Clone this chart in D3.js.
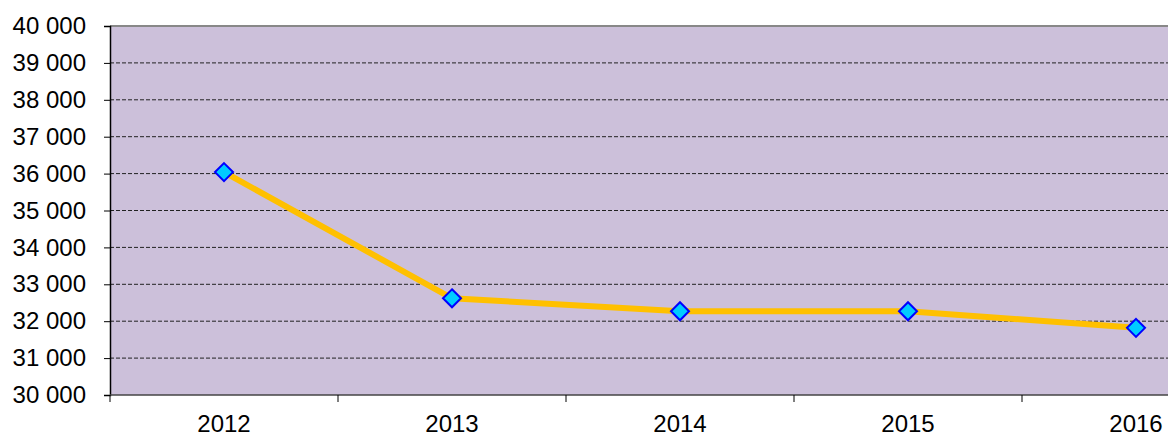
<!DOCTYPE html>
<html><head><meta charset="utf-8">
<script src="https://cdn.jsdelivr.net/npm/d3@7"></script>
<style>body{margin:0;background:#fff}svg{display:block}</style>
</head><body>
<svg id="c" width="1168" height="437"></svg>
<script>
const years = ["2012","2013","2014","2015","2016"];
const values = [36040, 32620, 32270, 32270, 31820];
const yTicks = [30000,31000,32000,33000,34000,35000,36000,37000,38000,39000,40000];

const svg = d3.select("#c");
const L = 110, T = 26, B = 395, R = 1168;
const x = d3.scaleBand().domain(years).range([L, L + 228*5]);
const y = d3.scaleLinear().domain([30000, 40000]).range([B, T]);
const fmt = v => d3.format(",")(v).replace(/,/g, " ");
const FONT = "Liberation Sans, Arial, sans-serif";

svg.append("rect").attr("x", L).attr("y", T).attr("width", R - L).attr("height", B - T).attr("fill", "#CCC0DA");

// gridlines
svg.append("g").selectAll("line").data(yTicks.filter(d => d > 30000 && d < 40000)).join("line")
  .attr("x1", L).attr("x2", R).attr("y1", d => y(d)).attr("y2", d => y(d))
  .attr("stroke", "#222").attr("stroke-width", 1).attr("stroke-dasharray", "4,2");

// top border
svg.append("line").attr("x1", L).attr("x2", R).attr("y1", T).attr("y2", T).attr("stroke", "#888").attr("stroke-width", 2);

// y axis
const ya = svg.append("g").attr("transform", `translate(${L},0)`)
  .call(d3.axisLeft(y).tickValues(yTicks).tickFormat(fmt).tickSize(6).tickPadding(18));
ya.select(".domain").attr("stroke", "#000").attr("stroke-width", 1.5);
ya.selectAll(".tick line").attr("stroke", "#000");
ya.selectAll("text").attr("font-family", FONT).attr("font-size", 24).attr("fill", "#000");

// x axis
const xa = svg.append("g").attr("transform", `translate(0,${B})`)
  .call(d3.axisBottom(x).tickSize(0).tickPadding(20));
xa.select(".domain").remove();
xa.selectAll("text").attr("font-family", FONT).attr("font-size", 24).attr("fill", "#000");
svg.append("line").attr("x1", L).attr("x2", R).attr("y1", B).attr("y2", B).attr("stroke", "#444").attr("stroke-width", 1.5);
svg.append("g").selectAll("line").data(years.map(d => x(d)).concat([x(years[4]) + x.bandwidth()])).join("line")
  .attr("x1", d => d).attr("x2", d => d).attr("y1", B).attr("y2", B + 7).attr("stroke", "#000");

// line
const cx = d => x(d) + x.bandwidth()/2;
svg.append("path").datum(values)
  .attr("d", d3.line().x((d,i) => cx(years[i])).y(d => y(d)))
  .attr("fill", "none").attr("stroke", "#FFC000").attr("stroke-width", 6);

// markers
svg.append("g").selectAll("path").data(values).join("path")
  .attr("transform", (d,i) => `translate(${cx(years[i])},${y(d)})`)
  .attr("d", "M0,-9L9,0L0,9L-9,0Z")
  .attr("fill", "#00CCFF").attr("stroke", "#0000FF").attr("stroke-width", 2);
</script>
</body></html>
